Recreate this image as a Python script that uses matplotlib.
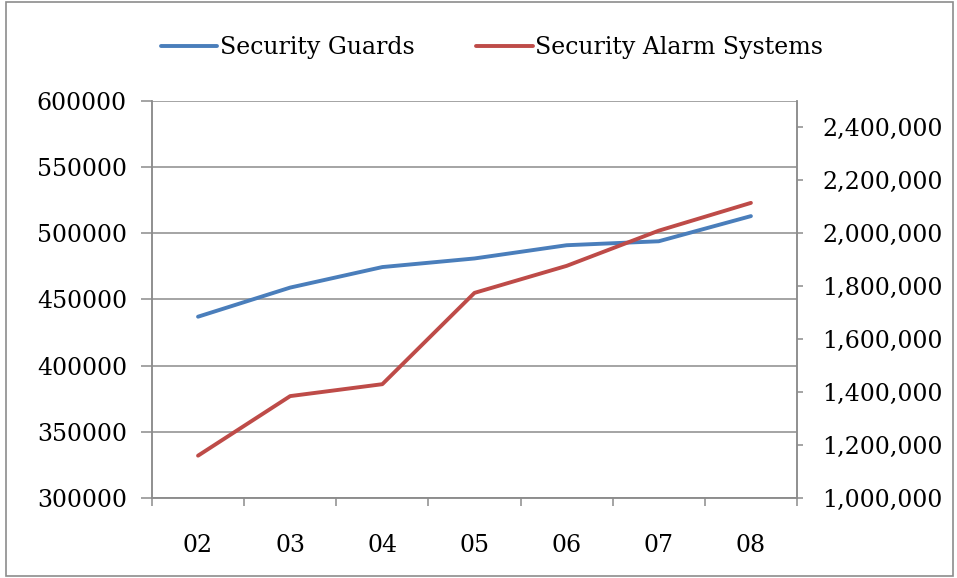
import matplotlib.pyplot as plt
from matplotlib.patches import Rectangle
from matplotlib.ticker import FuncFormatter, FixedLocator

# data
years = ["02", "03", "04", "05", "06", "07", "08"]
guards = [437000, 459000, 474500, 481000, 491000, 494000, 513000]
alarms = [1160000, 1385000, 1430000, 1775000, 1877000, 2010000, 2115000]

plt.rcParams['font.family'] = ['DejaVu Serif']

fig = plt.figure(figsize=(9.57, 5.78), dpi=100)
ax = fig.add_axes([0.1588, 0.1384, 0.6740, 0.6869])
ax2 = ax.twinx()

x = list(range(len(years)))
l1, = ax.plot(x, guards, color='#4A7EBB', lw=2.8, solid_capstyle='round',
              label='Security Guards', zorder=3)
l2, = ax2.plot(x, alarms, color='#BE4B48', lw=2.8, solid_capstyle='round',
               label='Security Alarm Systems', zorder=3)

ax.set_xlim(-0.5, len(years) - 0.5)
ax.set_ylim(300000, 600000)
ax.set_yticks(range(300000, 600001, 50000))
ax.grid(axis='y', color='#8c8c8c', lw=1.1)
ax.set_axisbelow(True)

ax2.set_ylim(1000000, 2500000)
ax2.set_yticks(range(1000000, 2400001, 200000))
ax2.yaxis.set_major_formatter(FuncFormatter(lambda v, p: f"{int(v):,}"))

# category labels centred, tick marks between categories
ax.set_xticks(x)
ax.set_xticklabels(years)
ax.xaxis.set_minor_locator(FixedLocator([i - 0.5 for i in range(len(years) + 1)]))
ax.tick_params(axis='x', which='major', length=0, pad=26, labelsize=17)
ax.tick_params(axis='x', which='minor', length=6, width=1.1, color='#8c8c8c', direction='out')
ax.tick_params(axis='y', length=8, width=1.1, color='#8c8c8c', pad=10, labelsize=17)
ax2.tick_params(axis='y', length=4, width=1.1, color='#8c8c8c', pad=14, labelsize=17)

for a in (ax, ax2):
    for s in a.spines.values():
        s.set_color('#8c8c8c')
        s.set_linewidth(1.1)
    a.spines['top'].set_visible(False)

fig.legend([l1, l2], [l1.get_label(), l2.get_label()], loc='center',
           bbox_to_anchor=(0.514, 0.917), ncol=2, frameon=False, fontsize=17,
           handlelength=2.4, handletextpad=0.1, columnspacing=2.6)

# outer chart border
fig.add_artist(Rectangle((0.006, 0.003), 0.99, 0.994, transform=fig.transFigure,
                         fill=False, edgecolor='#8c8c8c', lw=1.2))

fig.savefig('out.png', dpi=100)
